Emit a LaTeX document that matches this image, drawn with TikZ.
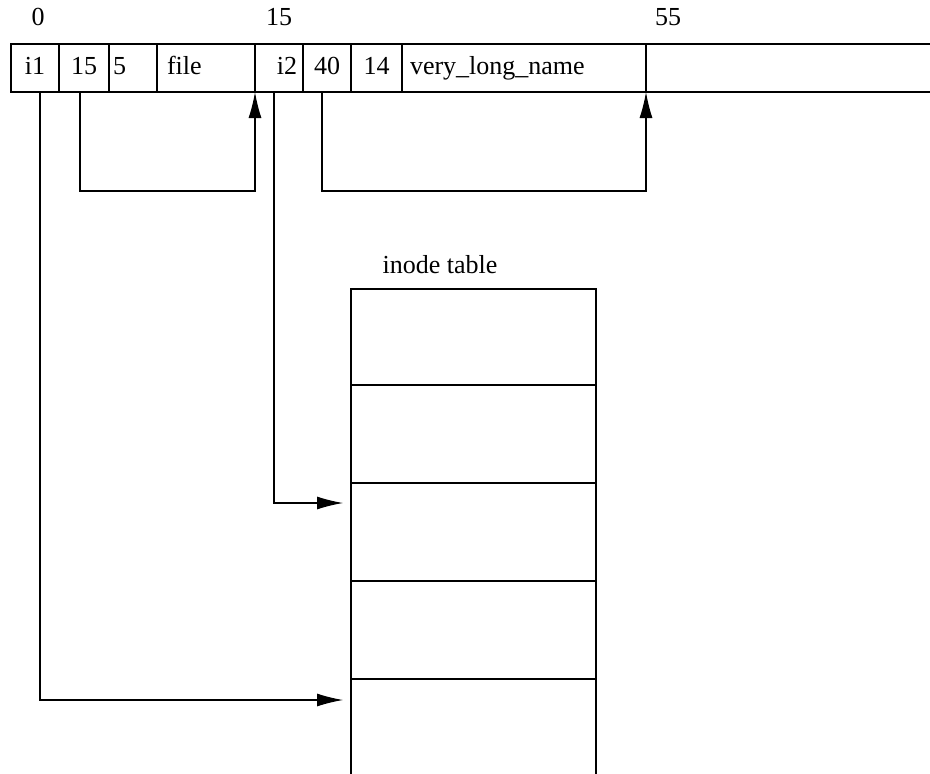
\documentclass[tikz,border=0pt]{standalone}
\usepackage{fontspec}
\setmainfont{Liberation Serif}
\usetikzlibrary{arrows.meta,positioning}

\begin{document}
\begin{tikzpicture}[
  x=1pt, y=-1pt,
  line width=1.1pt,
  font=\fontsize{26}{30}\selectfont,
  cell/.style={draw, minimum height=48, inner sep=0, outer sep=0, text height=18, text depth=6, anchor=north west},
  slot/.style={draw, minimum width=245, minimum height=98, inner sep=0, outer sep=0},
  offset/.style={inner sep=0},
  ptr/.style={-{Latex[length=26pt,width=13pt]}}
]
  \clip (0,0) rectangle (930,774);

  % offsets
  \node[offset] (off0) at (38,17) {0};
  \node[offset] (off15) at (279,17) {15};
  \node[offset] (off55) at (668,17) {55};

  % first entry
  \node[cell, minimum width=48] (i1) at (11,44) {i1};
  \node[cell, minimum width=50, right=0pt of i1] (len1) {15};
  \node[cell, minimum width=48, inner xsep=4, text width=40, align=left, right=0pt of len1] (nlen1) {5};
  \node[cell, minimum width=98, inner xsep=10, text width=78, align=left, right=0pt of nlen1] (name1) {file};

  % second entry
  \node[cell, minimum width=48, inner xsep=6, text width=36, align=right, right=0pt of name1] (i2) {i2};
  \node[cell, minimum width=48, right=0pt of i2] (len2) {40};
  \node[cell, minimum width=51, right=0pt of len2] (nlen2) {14};
  \node[cell, minimum width=244, inner xsep=8, text width=228, align=left, right=0pt of nlen2] (name2) {very\_long\_name};

  % free space
  \node[cell, minimum width=320, right=0pt of name2] (free) {};

  % inode table
  \node[anchor=west, inner sep=0] (tablelabel) at (382,265) {inode table};
  \node[slot, minimum height=96, anchor=north west] (slot1) at (351,289) {};
  \node[slot, below=0pt of slot1] (slot2) {};
  \node[slot, below=0pt of slot2] (slot3) {};
  \node[slot, below=0pt of slot3] (slot4) {};
  \node[slot, below=0pt of slot4] (slot5) {};

  % record lengths
  \draw[ptr] ([xshift=-4]len1.south) -- ++(0,99) -| (name1.south east);
  \draw[ptr] ([xshift=-5]len2.south) -- ++(0,99) -| (name2.south east);

  % inode numbers
  \draw[ptr] ([xshift=-5]i2.south) |- ([xshift=-8,yshift=-20]slot3.north west);
  \draw[ptr] ([xshift=5]i1.south) |- ([xshift=-8,yshift=-21]slot5.north west);
\end{tikzpicture}
\end{document}
